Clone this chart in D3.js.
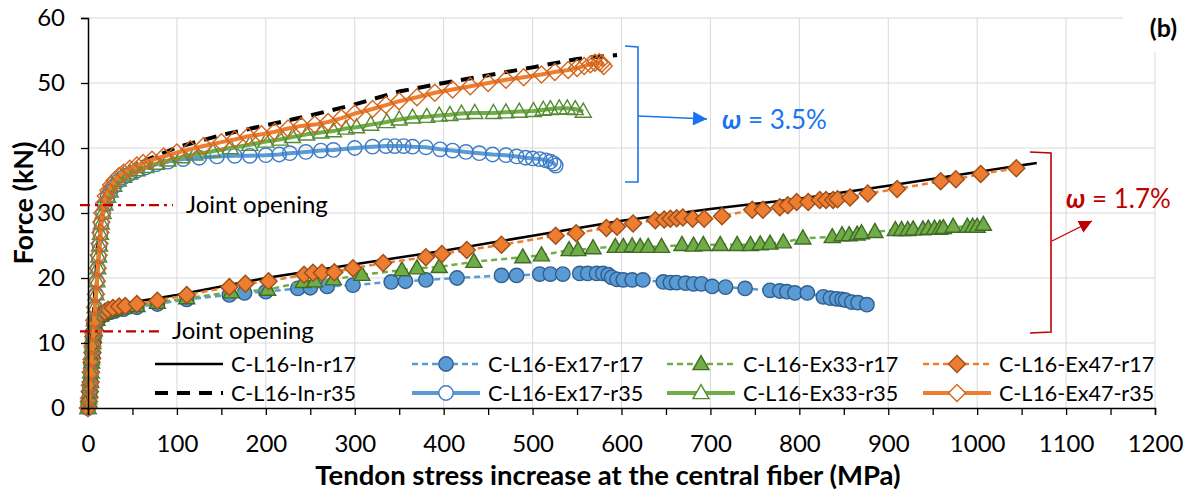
<!DOCTYPE html>
<html lang="en">
<head>
<meta charset="utf-8">
<script src="https://d3js.org/d3.v7.min.js"></script>
<style>
  body { margin: 0; background: #fff; }
  svg text { font-family: Lato, "Open Sans", sans-serif; fill: #000; }
</style>
</head>
<body>
<script>
// axis ticks
var xTicks = [0, 100, 200, 300, 400, 500, 600, 700, 800, 900, 1000, 1100, 1200];
var yTicks = [0, 10, 20, 30, 40, 50, 60];

// series: [stress MPa, force kN]
var inR17 = [[0,0],[2,3],[4,7],[6,11],[8,13.3],[12,14.5],[20,15.3],[35,15.9],[60,16.5],[100,17.4],[150,18.7],[200,20],[300,22.1],[400,24.2],[500,26.5],[600,28.8],[700,30.6],[800,32.2],[900,34.2],[1000,36.3],[1067,37.7]];
var inR35 = [[0,0],[3,6],[6,13],[9,20],[12,26],[16,30.5],[22,33.3],[30,35],[45,36.7],[65,38.1],[100,40.1],[150,42],[200,43.5],[250,45],[300,46.7],[350,48.7],[400,50],[450,51.2],[500,52.4],[550,53.7],[595,54.3]];
var ex17R17 = [[0,0],[1,1],[2,2.5],[3,4],[3.5,5.5],[4,7],[5,8.5],[5.5,10],[6,11],[7,12],[8,12.8],[10,13.4],[14,14],[19,14.4],[24,14.7],[30,14.9],[40,15.2],[55,15.5],[78,16],[111,16.7],[159,17.4],[176,17.7],[200,17.9],[236,18.4],[250,18.5],[269,18.7],[298,18.9],[341,19.4],[357,19.5],[380,19.7],[415,20],[465,20.4],[482,20.4],[508,20.6],[520,20.6],[534,20.6],[553,20.7],[562,20.7],[572,20.7],[579,20.7],[585,20.5],[589,20.1],[595,19.8],[602,19.7],[612,19.7],[624,19.7],[647,19.4],[655,19.3],[662,19.3],[672,19.2],[681,19.1],[690,19.1],[702,18.7],[717,18.6],[739,18.4],[767,18.1],[778,18],[786,17.9],[795,17.7],[809,17.7],[827,17.1],[835,16.9],[842,16.8],[848,16.7],[852,16.6],[859,16.3],[866,16.2],[876,15.9]];
var ex33R17 = [[0,0],[1,1],[2,2.5],[3,4],[3.5,5.5],[4,7],[5,8.5],[5.5,10],[6,11],[7,12],[8,12.8],[10,13.6],[14,14.2],[19,14.6],[24,14.9],[30,15.1],[40,15.4],[55,15.7],[78,16.2],[111,16.9],[161,17.8],[202,18.2],[242,19.4],[255,19.5],[276,19.8],[308,20.5],[353,21.2],[370,21.5],[395,21.7],[434,22.5],[489,23.2],[510,23.5],[541,24.3],[551,24.3],[568,24.6],[593,24.8],[602,24.8],[612,24.9],[621,24.8],[630,24.8],[645,24.8],[668,25.1],[681,25],[692,25.1],[711,25.1],[730,25.1],[745,25.1],[756,25.2],[767,25.3],[782,25.5],[804,26.1],[837,26.3],[848,26.6],[856,26.6],[865,26.7],[870,26.9],[885,27.1],[908,27.4],[915,27.4],[922,27.4],[928,27.5],[939,27.5],[945,27.6],[952,27.6],[958,27.6],[962,27.7],[973,27.9],[989,27.9],[995,27.9],[1000,27.9],[1007,28.2]];
var ex47R17 = [[0,0],[1,1],[2,2.5],[3,4],[3.5,5.5],[4,7],[5,8.5],[5.5,10],[6,11],[7,12],[8,13],[10,13.8],[14,14.5],[19,14.8],[22.5,15.1],[28,15.4],[35,15.6],[42,15.7],[55,16],[78,16.5],[111,17.4],[159,18.6],[177,19.1],[203,19.5],[243,20.5],[253,20.8],[263,20.8],[277,20.9],[298,21.5],[332,22.3],[380,23.2],[398,23.7],[426,24.3],[465,25.1],[526,26.5],[549,26.9],[583,27.7],[595,27.9],[613,28.4],[638,28.9],[648,29],[655,29.1],[662,29.2],[669,29.3],[680,29.1],[693,29.1],[713,29.5],[747,30.5],[759,30.5],[778,30.9],[787,31.2],[797,31.7],[810,31.7],[823,32],[830,32],[838,32],[843,32.1],[857,32.4],[877,33],[910,33.7],[959,34.9],[976,35.2],[1004,36],[1044,36.9]];
var ex17R35 = [[0,0],[1,1.5],[2,3.5],[3,5.5],[4,7.5],[5,9.5],[6,11.5],[7,13.5],[8,15.5],[9,17.5],[10,19.5],[11,21.5],[12,23.3],[13,25],[14,26.8],[15,28.4],[17,30],[19,31.3],[22,32.5],[25,33.3],[29,34.1],[34,34.9],[40,35.5],[47,36],[55,36.5],[65,37],[77,37.5],[90,37.9],[107,38.3],[125,38.5],[145,38.7],[165,38.8],[182,38.8],[200,38.9],[215,39],[227,39.2],[245,39.4],[262,39.6],[276,39.7],[300,40],[320,40.2],[335,40.3],[345,40.3],[355,40.3],[365,40.2],[380,40.1],[396,39.8],[410,39.6],[425,39.4],[440,39.2],[455,39],[470,38.9],[482,38.7],[492,38.5],[500,38.4],[508,38.3],[515,38.1],[520,37.9],[524,37.6],[526,37.3]];
var ex33R35 = [[0,0],[1,1.5],[2,3.5],[3,5.5],[4,7.5],[5,9.5],[6,11.5],[7,13.5],[8,15.5],[9,17.5],[10,19.5],[11,21.5],[12,23.3],[13,25],[14,26.8],[15,28.4],[17,30],[19,31.3],[22,32.5],[25,33.3],[29,34.2],[34,35],[40,35.6],[47,36.1],[55,36.6],[65,37.1],[77,37.6],[90,38.1],[105,38.6],[120,39],[140,39.5],[160,40],[182,40.5],[200,41],[216,41.3],[230,41.7],[246,42.1],[262,42.4],[276,42.6],[290,43],[302,43.2],[318,43.6],[336,44],[350,44.4],[365,44.7],[381,44.8],[395,45],[407,45.1],[420,45.3],[435,45.4],[456,45.4],[470,45.5],[485,45.6],[501,45.7],[512,45.9],[520,46],[530,46.1],[539,46.1],[548,46],[557,45.6]];
var ex47R35 = [[0,0],[1,1.5],[2,3.5],[3,5.5],[4,7.5],[5,9.5],[6,11.5],[7,13.5],[8,15.5],[9,17.5],[10,19.5],[11,21.5],[12,23.5],[13,25.3],[14,27],[15,28.6],[16,30],[18,31.5],[20,32.6],[23,33.5],[26,34.3],[30,35],[35,35.7],[40,36.2],[47,36.8],[55,37.3],[62,37.7],[72,38.2],[85,38.7],[100,39.3],[115,39.8],[130,40.3],[150,40.9],[165,41.3],[180,41.8],[195,42.1],[210,42.5],[225,43],[240,43.4],[255,43.6],[270,44],[285,44.6],[300,45.3],[320,46],[335,46.6],[350,47.2],[370,47.8],[390,48.5],[410,49],[430,49.5],[450,50],[470,50.5],[490,50.9],[510,51.3],[525,51.7],[540,52],[550,52.3],[558,52.6],[565,52.9],[570,53.1],[575,53.2],[578,53],[580,52.6]];

var blue = "#5B9BD5", orange = "#ED7D31", green = "#70AD47";

var series = [
  { name: "C-L16-In-r17", data: inR17, color: "#000", width: 2.5, dash: null, marker: null },
  { name: "C-L16-Ex17-r17", data: ex17R17, color: blue, width: 2.5, dash: "6,4", marker: "circle", fill: blue, mstroke: "#2F5F8F" },
  { name: "C-L16-Ex33-r17", data: ex33R17, color: green, width: 2.5, dash: "6,4", marker: "triangle", fill: green, mstroke: "#3F6B26" },
  { name: "C-L16-Ex47-r17", data: ex47R17, color: orange, width: 2.5, dash: "6,4", marker: "diamond", fill: orange, mstroke: "#9C4F1A" },
  { name: "C-L16-In-r35", data: inR35, color: "#000", width: 4, dash: "13,9", marker: null },
  { name: "C-L16-Ex17-r35", data: ex17R35, color: blue, width: 4, dash: null, marker: "circle", fill: "none", mstroke: "#3D7CC4" },
  { name: "C-L16-Ex33-r35", data: ex33R35, color: green, width: 4, dash: null, marker: "triangle", fill: "none", mstroke: "#548A33" },
  { name: "C-L16-Ex47-r35", data: ex47R35, color: orange, width: 4, dash: null, marker: "diamond", fill: "none", mstroke: "#D2661F" }
];

var W = 1192, H = 496;
var svg = d3.select("body").append("svg").attr("width", W).attr("height", H);

var x = d3.scaleLinear().domain([0, 1200]).range([88, 1155]);
var y = d3.scaleLinear().domain([0, 60]).range([408, 18]);

// grid
svg.append("g").selectAll("line").data(xTicks.slice(1)).enter().append("line")
  .attr("x1", d => x(d)).attr("x2", d => x(d)).attr("y1", y(60)).attr("y2", y(0))
  .attr("stroke", "#d9d9d9").attr("stroke-width", 1);
svg.append("g").selectAll("line").data(yTicks.slice(1)).enter().append("line")
  .attr("x1", x(0)).attr("x2", x(1200)).attr("y1", d => y(d)).attr("y2", d => y(d))
  .attr("stroke", "#d9d9d9").attr("stroke-width", 1);
// white box behind the panel label
svg.append("rect").attr("x", 1123).attr("y", 0).attr("width", 69).attr("height", 52).attr("fill", "#fff");

function markerPath(type, r) {
  if (type === "circle") return d3.symbol().type(d3.symbolCircle).size(Math.PI * r * r)();
  if (type === "diamond") return "M0," + (-r) + "L" + r + ",0L0," + r + "L" + (-r) + ",0Z";
  var h = r * 1.75;
  return "M0," + (-h * 0.6) + "L" + r + "," + (h * 0.4) + "L" + (-r) + "," + (h * 0.4) + "Z";
}
var msize = { circle: 7.2, diamond: 8.5, triangle: 8 };

var line = d3.line().x(d => x(d[0])).y(d => y(d[1]));
var plot = svg.append("g");

series.forEach(function (s) {
  var g = plot.append("g");
  g.append("path").datum(s.data).attr("d", line)
    .attr("fill", "none").attr("stroke", s.color).attr("stroke-width", s.width)
    .attr("stroke-dasharray", s.dash).attr("stroke-linejoin", "round");
  if (s.marker) {
    g.selectAll("path.m").data(s.data).enter().append("path").attr("class", "m")
      .attr("d", markerPath(s.marker, msize[s.marker]))
      .attr("transform", d => "translate(" + x(d[0]) + "," + y(d[1]) + ")")
      .attr("fill", s.fill).attr("stroke", s.mstroke).attr("stroke-width", 1.4);
  }
});

// axes
var xAxis = d3.axisBottom(x).tickValues(d3.range(0, 1201, 50)).tickSize(7)
  .tickFormat(d => d % 100 === 0 ? d : "");
var gx = svg.append("g").attr("transform", "translate(0," + y(0) + ")").call(xAxis);
gx.select(".domain").attr("stroke", "#000").attr("stroke-width", 1.5);
gx.selectAll(".tick line").attr("stroke", "#000").attr("stroke-width", 1.3);
gx.selectAll(".tick text").attr("dy", 0).attr("y", 44).attr("font-size", 24)
  .attr("font-family", "Lato, sans-serif");

var yAxis = d3.axisLeft(y).tickValues(yTicks).tickSize(7);
var gy = svg.append("g").attr("transform", "translate(" + x(0) + ",0)").call(yAxis);
gy.select(".domain").attr("stroke", "#000").attr("stroke-width", 1.5);
gy.selectAll(".tick line").attr("stroke", "#000").attr("stroke-width", 1.3);
gy.selectAll(".tick text").attr("x", -23).attr("font-size", 24)
  .attr("font-family", "Lato, sans-serif");

svg.append("text").attr("x", 608).attr("y", 485).attr("text-anchor", "middle")
  .attr("font-size", 27.5).attr("font-weight", "bold")
  .text("Tendon stress increase at the central fiber (MPa)");
svg.append("text").attr("transform", "translate(33,203) rotate(-90)").attr("text-anchor", "middle")
  .attr("font-size", 27).attr("font-weight", "bold").text("Force (kN)");
svg.append("text").attr("x", 1177).attr("y", 37).attr("text-anchor", "end")
  .attr("font-size", 25).attr("font-weight", "bold").text("(b)");

// joint opening markers
var red = "#C00000";
[[31.2, 173, 186], [11.8, 160, 172]].forEach(function (j) {
  svg.append("line").attr("x1", 80).attr("x2", j[1]).attr("y1", y(j[0])).attr("y2", y(j[0]))
    .attr("stroke", red).attr("stroke-width", 2.3).attr("stroke-dasharray", "10,5,3,5");
  svg.append("text").attr("x", j[2]).attr("y", y(j[0]) + 8).attr("font-size", 24).text("Joint opening");
});

// arrowheads
var defs = svg.append("defs");
function arrow(id, col, w, h) {
  defs.append("marker").attr("id", id).attr("viewBox", "0 0 10 10").attr("refX", 10).attr("refY", 5)
    .attr("markerWidth", w).attr("markerHeight", h).attr("markerUnits", "userSpaceOnUse")
    .attr("orient", "auto")
    .append("path").attr("d", "M0,0L10,5L0,10Z").attr("fill", col);
}
var wblue = "#1A73F0";
arrow("ab", wblue, 15, 14);
arrow("ar", red, 13, 13);

svg.append("path").attr("d", "M625,46L638,47L638,182L625,182").attr("fill", "none")
  .attr("stroke", wblue).attr("stroke-width", 1.6);
svg.append("line").attr("x1", 638).attr("y1", 116).attr("x2", 707).attr("y2", 119)
  .attr("stroke", wblue).attr("stroke-width", 1.3).attr("marker-end", "url(#ab)");
var t1 = svg.append("text").attr("x", 722).attr("y", 129).attr("font-size", 26).attr("fill", wblue);
t1.append("tspan").attr("font-weight", "bold").attr("font-style", "italic").attr("fill", wblue).text("ω");
t1.append("tspan").attr("fill", wblue).text(" = 3.5%");

svg.append("path").attr("d", "M1030,152L1051,153L1051,332L1030,333").attr("fill", "none")
  .attr("stroke", red).attr("stroke-width", 1.6);
svg.append("line").attr("x1", 1052).attr("y1", 241).attr("x2", 1092).attr("y2", 221)
  .attr("stroke", red).attr("stroke-width", 1.3).attr("marker-end", "url(#ar)");
var t2 = svg.append("text").attr("x", 1066).attr("y", 208).attr("font-size", 26).attr("fill", red);
t2.append("tspan").attr("font-weight", "bold").attr("font-style", "italic").attr("fill", red).text("ω");
t2.append("tspan").attr("fill", red).text(" = 1.7%");

// legend
var cols = [155, 412, 667, 923], rows = [364, 393];
var leg = svg.append("g");
series.forEach(function (s, k) {
  var cx = cols[k % 4], cy = rows[Math.floor(k / 4)];
  var g = leg.append("g");
  g.append("line").attr("x1", cx).attr("x2", cx + 68).attr("y1", cy).attr("y2", cy)
    .attr("stroke", s.color).attr("stroke-width", s.width).attr("stroke-dasharray", s.dash);
  if (s.marker) {
    g.append("path").attr("d", markerPath(s.marker, msize[s.marker]))
      .attr("transform", "translate(" + (cx + 34) + "," + cy + ")")
      .attr("fill", s.fill === "none" ? "#fff" : s.fill).attr("stroke", s.mstroke).attr("stroke-width", 1.4);
  }
  g.append("text").attr("x", cx + 76).attr("y", cy + 7.5).attr("font-size", 21.5).text(s.name);
});
</script>
</body>
</html>
